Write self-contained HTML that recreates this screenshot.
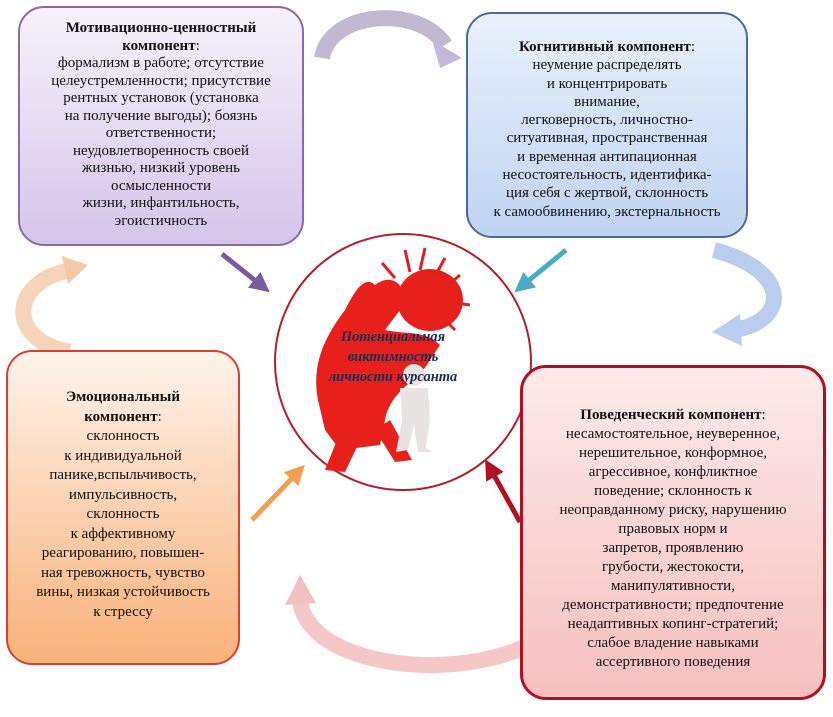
<!DOCTYPE html>
<html><head><meta charset="utf-8"><style>
body{margin:0;width:833px;height:717px;background:#fff;position:relative;overflow:hidden;font-family:"Liberation Serif",serif;}
.b{position:absolute;box-sizing:border-box;border-radius:26px;text-align:center;font-size:15px;color:#111;}
.b b{font-weight:bold;}
</style></head><body>
<svg width="833" height="717" style="position:absolute;left:0;top:0">
<defs>
<marker id="m1" markerWidth="4" markerHeight="4" refX="2" refY="2" orient="auto" markerUnits="strokeWidth"><path d="M0,0L4,2L0,4z" fill="context-stroke"/></marker>
</defs>
<path d="M322,58 C330,10 420,5 445,45" fill="none" stroke="#b3a8c4" stroke-width="16" opacity="0.8"/>
<path d="M432,40 L462,58 L440,68z" fill="#c4b8d8"/>
<path d="M714,250 C790,270 790,320 735,330" fill="none" stroke="#a9c0e8" stroke-width="16" opacity="0.8"/>
<path d="M740,314 L712,332 L742,346z" fill="#b8cdef"/>
<path d="M580,578 C575,690 310,690 300,600" fill="none" stroke="#f2b9b9" stroke-width="16" opacity="0.8"/>
<path d="M285,605 L300,575 L316,603z" fill="#f2c0c0"/>
<path d="M72,270 C10,280 5,340 70,352" fill="none" stroke="#f5c9a8" stroke-width="16" opacity="0.8"/>
<path d="M62,256 L88,265 L68,284z" fill="#f5c9a8"/>
<g stroke-width="5" fill="none" marker-end="url(#m1)">
<line x1="222" y1="254" x2="262" y2="286" stroke="#7a5aa0"/>
<line x1="566" y1="250" x2="522" y2="286" stroke="#4aaac8"/>
<line x1="252" y1="520" x2="298" y2="472" stroke="#f0a050"/>
<line x1="520" y1="522" x2="490" y2="468" stroke="#b01020"/>
</g>
<circle cx="403" cy="362" r="128" fill="#fff" stroke="#b02028" stroke-width="2"/>
<g fill="#e8201c">
<ellipse cx="430" cy="300" rx="33" ry="31"/>
<path d="M375,285 C395,270 410,290 400,310 L385,330 C410,335 425,330 440,345 L430,360 C420,380 390,390 385,420 L380,445 L340,450 L325,430 L318,400 C310,360 330,330 345,310 C355,290 365,275 375,285z"/>
<path d="M345,420 L325,470 L345,472 L365,430z M375,430 L395,462 L412,460 L390,420z"/>
</g>
<g stroke="#e02020" stroke-width="3" fill="none">
<path d="M382,263 L395,278"/><path d="M405,250 L410,272"/><path d="M425,248 L420,270"/><path d="M445,258 L435,276"/><path d="M460,275 L448,285"/><path d="M470,305 L457,303"/><path d="M455,330 L445,320"/>
</g>
<g fill="#e8e4e4"><ellipse cx="414" cy="375" rx="11" ry="11"/><path d="M400,388 L428,388 L430,420 L426,448 L432,452 L418,452 L414,425 L408,450 L396,452 L402,420z"/></g>
<text font-family="Liberation Serif,serif" font-style="italic" font-weight="bold" font-size="14.5" fill="#1f2a50" text-anchor="middle"><tspan x="393" y="341">Потенциальная</tspan><tspan x="393" y="361">виктимность</tspan><tspan x="393" y="381">личности курсанта</tspan></text>
</svg>
<div class="b" style="left:18px;top:6px;width:286px;height:240px;border:2px solid #8a6aa8;background:linear-gradient(#f6f2fb,#d5c5ea);padding-top:12px;line-height:17.5px">
<b>Мотивационно-ценностный<br>компонент</b>:<br>формализм в работе; отсутствие<br>целеустремленности; присутствие<br>рентных установок (установка<br>на получение выгоды); боязнь<br>ответственности;<br>неудовлетворенность своей<br>жизнью, низкий уровень<br>осмысленности<br>жизни, инфантильность,<br>эгоистичность</div>
<div class="b" style="left:466px;top:12px;width:282px;height:226px;border:2px solid #4a6a9a;background:linear-gradient(#e9f1fc,#bfd4f2);padding-top:24px;line-height:18.3px">
<b>Когнитивный компонент</b>:<br>неумение распределять<br>и концентрировать<br>внимание,<br>легковерность, личностно-<br>ситуативная, пространственная<br>и временная антипационная<br>несостоятельность, идентифика-<br>ция себя с жертвой, склонность<br>к самообвинению, экстернальность</div>
<div class="b" style="left:6px;top:350px;width:234px;height:315px;border:2px solid #d84030;background:linear-gradient(#fff3ea,#f9b27a);padding-top:36px;line-height:19.5px">
<b>Эмоциональный<br>компонент</b>:<br>склонность<br>к индивидуальной<br>панике,вспыльчивость,<br>импульсивность,<br>склонность<br>к аффективному<br>реагированию, повышен-<br>ная тревожность, чувство<br>вины, низкая устойчивость<br>к стрессу</div>
<div class="b" style="left:520px;top:365px;width:306px;height:335px;border:3px solid #b01020;background:linear-gradient(#fdeaea,#f7c0c0);padding-top:38px;line-height:19px">
<b>Поведенческий компонент</b>:<br>несамостоятельное, неуверенное,<br>нерешительное, конформное,<br>агрессивное, конфликтное<br>поведение; склонность к<br>неоправданному риску, нарушению<br>правовых норм и<br>запретов, проявлению<br>грубости, жестокости,<br>манипулятивности,<br>демонстративности; предпочтение<br>неадаптивных копинг-стратегий;<br>слабое владение навыками<br>ассертивного поведения</div>
</body></html>
